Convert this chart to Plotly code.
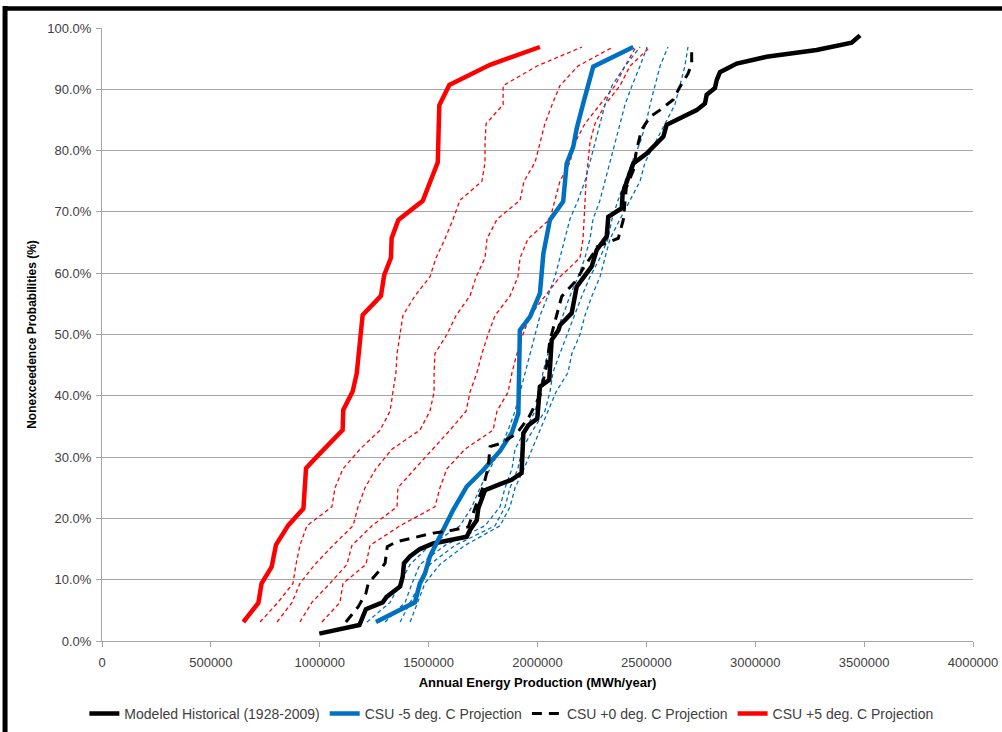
import plotly.graph_objects as go

# plotting positions used by the 31-year projection runs (%)
proj_prob = [3.1, 6.3, 9.4, 12.5, 15.6, 18.8, 21.9, 25.0, 28.1, 31.3, 34.4, 37.5, 40.6, 43.8, 46.9, 50.0,
             53.1, 56.3, 59.4, 62.5, 65.6, 68.8, 71.9, 75.0, 78.1, 81.3, 84.4, 87.5, 90.6, 93.8, 96.9]

# thin dashed red runs (+1 .. +4 deg C), MWh/year at each plotting position
red_runs = [
    [726000, 808000, 877000, 891000, 909000, 941000, 1056000, 1070000, 1107000, 1185000, 1277000, 1323000,
     1336000, 1350000, 1355000, 1369000, 1382000, 1437000, 1506000, 1534000, 1575000, 1612000, 1644000,
     1745000, 1759000, 1759000, 1764000, 1842000, 1842000, 1998000, 2204000],
    [804000, 873000, 909000, 978000, 1061000, 1153000, 1176000, 1208000, 1258000, 1332000, 1460000, 1506000,
     1525000, 1525000, 1529000, 1584000, 1626000, 1690000, 1718000, 1759000, 1768000, 1814000, 1920000,
     1938000, 1989000, 2012000, 2034000, 2067000, 2103000, 2186000, 2347000],
    [909000, 964000, 1047000, 1125000, 1148000, 1240000, 1355000, 1359000, 1437000, 1520000, 1598000, 1672000,
     1690000, 1722000, 1745000, 1773000, 1805000, 1874000, 1910000, 1920000, 1956000, 2057000, 2080000,
     2103000, 2149000, 2172000, 2218000, 2287000, 2356000, 2402000, 2452000],
    [1010000, 1093000, 1107000, 1212000, 1231000, 1369000, 1529000, 1552000, 1584000, 1667000, 1796000, 1814000,
     1865000, 1883000, 1906000, 1933000, 1966000, 2034000, 2103000, 2195000, 2209000, 2214000, 2218000,
     2223000, 2232000, 2241000, 2264000, 2310000, 2379000, 2425000, 2517000],
]

# thin dashed blue runs (-1 .. -4 deg C)
blue_runs = [
    [1217000, 1323000, 1369000, 1415000, 1506000, 1644000, 1699000, 1736000, 1782000, 1828000, 1865000, 1897000,
     1920000, 1943000, 1966000, 1989000, 2012000, 2048000, 2080000, 2103000, 2126000, 2149000, 2186000,
     2218000, 2241000, 2264000, 2287000, 2310000, 2342000, 2402000, 2471000],
    [1300000, 1392000, 1424000, 1460000, 1575000, 1759000, 1828000, 1851000, 1883000, 1897000, 1943000, 1989000,
     2012000, 2025000, 2048000, 2080000, 2117000, 2149000, 2186000, 2218000, 2241000, 2255000, 2287000,
     2310000, 2333000, 2356000, 2379000, 2402000, 2434000, 2471000, 2503000],
    [1369000, 1415000, 1460000, 1506000, 1621000, 1805000, 1851000, 1874000, 1910000, 1929000, 1979000, 2034000,
     2057000, 2071000, 2103000, 2136000, 2172000, 2204000, 2241000, 2287000, 2324000, 2342000, 2370000,
     2402000, 2434000, 2471000, 2498000, 2517000, 2540000, 2563000, 2599000],
    [1415000, 1451000, 1483000, 1552000, 1667000, 1828000, 1874000, 1897000, 1938000, 1975000, 2012000, 2048000,
     2085000, 2140000, 2158000, 2195000, 2218000, 2250000, 2287000, 2310000, 2333000, 2379000, 2425000,
     2471000, 2494000, 2540000, 2586000, 2631000, 2654000, 2677000, 2691000],
]

# Modeled Historical (1928-2009)
hist_x = [998000, 1182000, 1212000, 1289000, 1307000, 1369000, 1381000, 1387000, 1414000, 1460000, 1521000,
          1675000, 1690000, 1721000, 1728000, 1759000, 1828000, 1881000, 1927000, 1935000, 1958000, 1999000,
          2011000, 2054000, 2065000, 2096000, 2103000, 2157000, 2180000, 2210000, 2249000, 2272000, 2318000,
          2325000, 2387000, 2391000, 2440000, 2501000, 2578000, 2593000, 2670000, 2731000, 2769000, 2777000,
          2815000, 2823000, 2838000, 2915000, 3052000, 3282000, 3443000, 3481000]
hist_y = [1.2, 2.6, 5.2, 6.3, 7.2, 8.9, 10.5, 12.7, 13.8, 15.0, 15.9,
          17.0, 18.1, 19.7, 21.6, 24.6, 25.6, 26.3, 27.4, 33.9, 35.2, 36.3,
          41.5, 42.6, 49.1, 50.7, 51.5, 53.5, 57.8, 59.2, 61.1, 63.8, 66.0,
          69.2, 70.6, 73.0, 77.9, 79.5, 82.3, 84.2, 85.5, 86.6, 87.7, 89.1,
          90.2, 91.5, 92.8, 94.2, 95.3, 96.4, 97.6, 98.8]

# CSU -5 deg. C Projection
m5_x = [1258000, 1437000, 1460000, 1483000, 1506000, 1537000, 1583000, 1613000, 1675000, 1751000, 1828000,
        1881000, 1912000, 1915000, 1919000, 1966000, 2011000, 2027000, 2057000, 2118000, 2134000, 2164000,
        2180000, 2210000, 2226000, 2256000, 2440000]
m5_y = [3.1, 6.3, 9.4, 11.0, 13.8, 15.9, 19.2, 21.4, 25.2, 27.9, 31.0,
        33.9, 37.1, 43.0, 50.7, 52.9, 56.7, 63.2, 68.7, 71.7, 77.9, 80.6,
        83.6, 87.7, 89.9, 93.7, 96.9]

# CSU +0 deg. C Projection
p0_x = [1120000, 1177000, 1212000, 1223000, 1277000, 1300000, 1310000, 1353000, 1521000, 1613000, 1682000,
        1698000, 1721000, 1751000, 1774000, 1782000, 1828000, 1904000, 1960000, 2011000, 2042000, 2057000,
        2088000, 2111000, 2180000, 2210000, 2256000, 2272000, 2371000, 2394000, 2408000, 2440000, 2455000,
        2478000, 2517000, 2562000, 2623000, 2654000, 2692000, 2708000, 2708000]
p0_y = [3.1, 5.6, 7.8, 9.4, 11.6, 12.7, 15.4, 16.2, 17.6, 18.1, 18.6,
        20.3, 22.5, 25.2, 28.4, 31.7, 32.2, 33.8, 36.5, 40.0, 45.0, 49.0,
        52.9, 56.2, 58.9, 60.8, 63.2, 64.3, 65.7, 68.7, 74.0, 76.8, 80.1,
        83.4, 85.5, 86.6, 88.3, 90.4, 92.6, 94.2, 97.0]

# CSU +5 deg. C Projection
p5_x = [649000, 718000, 733000, 779000, 799000, 856000, 925000, 937000, 1001000, 1105000, 1108000, 1151000,
        1170000, 1197000, 1281000, 1296000, 1327000, 1330000, 1361000, 1473000, 1542000, 1549000, 1595000,
        1782000, 2011000]
p5_y = [3.1, 6.2, 9.4, 12.1, 15.7, 18.9, 21.6, 28.2, 30.6, 34.4, 37.7, 40.7,
        43.7, 53.2, 56.3, 59.7, 62.5, 65.7, 68.7, 71.8, 78.1, 87.4, 90.7,
        94.0, 96.9]

RED = "#ff0000"
BLUE = "#0070c0"

fig = go.Figure()

# thin dashed runs first so the thick ones sit on top
for run in red_runs:
    fig.add_trace(go.Scatter(x=run, y=proj_prob, mode="lines", showlegend=False, hoverinfo="skip",
                             line=dict(color=RED, width=1.3, dash="4px,3px")))
for run in blue_runs:
    fig.add_trace(go.Scatter(x=run, y=proj_prob, mode="lines", showlegend=False, hoverinfo="skip",
                             line=dict(color=BLUE, width=1.3, dash="4px,3px")))

fig.add_trace(go.Scatter(x=hist_x, y=hist_y, mode="lines", name="Modeled Historical (1928-2009)",
                         line=dict(color="black", width=4.5)))
fig.add_trace(go.Scatter(x=m5_x, y=m5_y, mode="lines", name="CSU -5 deg. C Projection",
                         line=dict(color=BLUE, width=4.5)))
fig.add_trace(go.Scatter(x=p0_x, y=p0_y, mode="lines", name="CSU +0 deg. C Projection",
                         line=dict(color="black", width=3, dash="10px,7px")))
fig.add_trace(go.Scatter(x=p5_x, y=p5_y, mode="lines", name="CSU +5 deg. C Projection",
                         line=dict(color=RED, width=4.5)))

# frame pieces (thick black edge on the top and left of the picture)
frame = []
frame.append(dict(type="line", xref="paper", yref="paper", x0=-0.111, x1=1.1, y0=1.032, y1=1.032,
                  line=dict(color="black", width=4.5)))
frame.append(dict(type="line", xref="paper", yref="paper", x0=-0.1113, x1=-0.1113, y0=1.036, y1=-0.2,
                  line=dict(color="black", width=5)))

fig.update_layout(
    width=1002, height=732,
    margin=dict(l=102, r=29, t=28, b=91, autoexpand=False),
    paper_bgcolor="white", plot_bgcolor="white",
    font=dict(family="Liberation Sans, Arial, sans-serif", size=13, color="#404040"),
    shapes=frame,
    showlegend=True,
    legend=dict(orientation="h", x=0.47, xanchor="center", y=-0.119, yanchor="middle",
                font=dict(size=14, color="#404040"), traceorder="normal"),
    xaxis=dict(range=[0, 4000000], dtick=500000, tickformat="d", showgrid=False, automargin=False,
               showline=True, linecolor="#a6a6a6", linewidth=1, ticks="outside", ticklen=5,
               tickcolor="#a6a6a6", zeroline=False, ticklabelstandoff=4,
               title=dict(text="<b>Annual Energy Production (MWh/year)</b>", standoff=9,
                          font=dict(size=13, color="black"))),
    yaxis=dict(range=[0, 100], dtick=10, tickformat=".1f", ticksuffix="%", showgrid=True, automargin=False,
               gridcolor="#a6a6a6", gridwidth=1, showline=True, linecolor="#a6a6a6", linewidth=1,
               ticks="outside", ticklen=5, tickcolor="#a6a6a6", zeroline=False, ticklabelstandoff=2,
               title=dict(text="<b>Nonexceedence Probabilities (%)</b>", standoff=8,
                          font=dict(size=12, color="black"))),
)

# the page body has a default 8px margin; drop it so the figure sits at the window's corner
fig.write_html("out.html", config={"displayModeBar": False},
               post_script="document.body.style.margin='0px';")
